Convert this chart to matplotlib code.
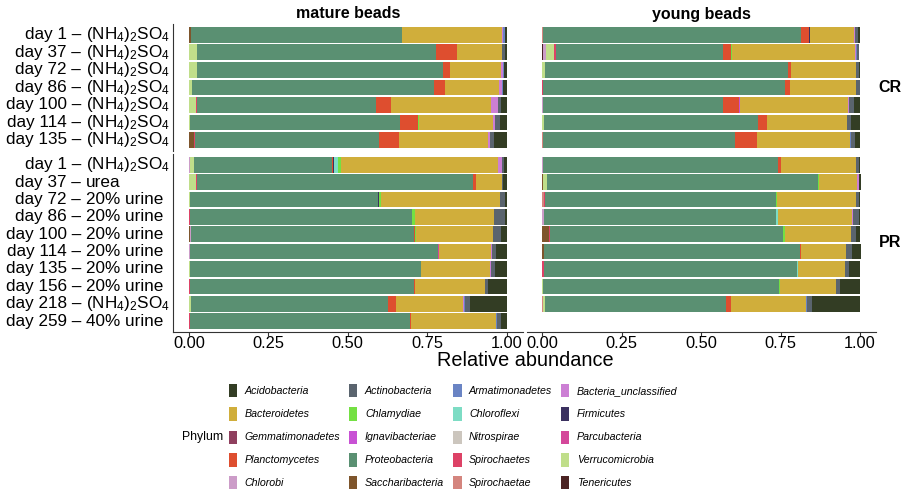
import numpy as np
import matplotlib
matplotlib.use('Agg')
import matplotlib.pyplot as plt
from matplotlib.patches import Rectangle
from matplotlib.transforms import blended_transform_factory

plt.rcParams['font.family'] = ['Liberation Sans', 'DejaVu Sans']
plt.rcParams['mathtext.fontset'] = 'custom'
plt.rcParams['mathtext.rm'] = 'Liberation Sans'
plt.rcParams['mathtext.it'] = 'Liberation Sans:italic'
plt.rcParams['mathtext.default'] = 'regular'

# phyla in legend order (row by row); bars are stacked in reverse of this
phyla = ['Acidobacteria', 'Actinobacteria', 'Armatimonadetes', 'Bacteria_unclassified',
         'Bacteroidetes', 'Chlamydiae', 'Chloroflexi', 'Firmicutes',
         'Gemmatimonadetes', 'Ignavibacteriae', 'Nitrospirae', 'Parcubacteria',
         'Planctomycetes', 'Proteobacteria', 'Spirochaetes', 'Verrucomicrobia',
         'Chlorobi', 'Saccharibacteria', 'Spirochaetae', 'Tenericutes']
colors = ['#333d24', '#5a646e', '#6a84c4', '#cc7fd4',
          '#d0ae3b', '#74e043', '#7ddcc4', '#3b3160',
          '#8f3f5e', '#c851d4', '#ccc6be', '#d4479a',
          '#de4e2f', '#5a9072', '#dd4266', '#c0de8a',
          '#cc9cc8', '#7e552c', '#d4857e', '#4b2323']

# sample labels: sampling day and nitrogen source
amm = '(NH$_4$)$_2$SO$_4$'
cr_days = [1, 37, 72, 86, 100, 114, 135]
cr_feed = [amm] * 7
pr_days = [1, 37, 72, 86, 100, 114, 135, 156, 218, 259]
pr_feed = [amm, 'urea', '20% urine', '20% urine', '20% urine', '20% urine',
           '20% urine', '20% urine', amm, '40% urine']

mature_cr = {
    'Saccharibacteria':      [0.006, 0, 0, 0, 0, 0, 0.016],
    'Verrucomicrobia':       [0, 0.024, 0.024, 0.009, 0.021, 0.003, 0],
    'Spirochaetes':          [0, 0, 0, 0, 0.004, 0, 0.004],
    'Proteobacteria':        [0.664, 0.753, 0.776, 0.762, 0.563, 0.661, 0.579],
    'Planctomycetes':        [0, 0.066, 0.021, 0.035, 0.048, 0.056, 0.062],
    'Chlamydiae':            [0, 0.002, 0, 0, 0, 0.004, 0],
    'Bacteroidetes':         [0.314, 0.141, 0.161, 0.170, 0.315, 0.234, 0.280],
    'Bacteria_unclassified': [0.005, 0, 0.006, 0.009, 0.021, 0.006, 0.006],
    'Armatimonadetes':       [0.005, 0, 0.004, 0.004, 0, 0, 0],
    'Actinobacteria':        [0, 0.009, 0, 0, 0.009, 0.015, 0.013],
    'Acidobacteria':         [0.006, 0.006, 0.008, 0.011, 0.020, 0.022, 0.041],
}

young_cr = {
    'Tenericutes':           [0, 0.003, 0, 0, 0, 0, 0],
    'Spirochaetae':          [0.003, 0, 0, 0, 0, 0, 0.003],
    'Chlorobi':              [0, 0.007, 0, 0, 0.003, 0, 0],
    'Verrucomicrobia':       [0, 0.028, 0.007, 0, 0, 0.004, 0],
    'Spirochaetes':          [0, 0.006, 0, 0.003, 0, 0, 0],
    'Proteobacteria':        [0.811, 0.526, 0.765, 0.760, 0.566, 0.674, 0.603],
    'Planctomycetes':        [0.025, 0.024, 0.011, 0.015, 0.050, 0.028, 0.069],
    'Ignavibacteriae':       [0, 0, 0, 0, 0.002, 0, 0],
    'Firmicutes':            [0.003, 0, 0, 0, 0, 0, 0],
    'Chlamydiae':            [0, 0.004, 0, 0, 0, 0, 0],
    'Bacteroidetes':         [0.139, 0.386, 0.205, 0.209, 0.340, 0.252, 0.293],
    'Bacteria_unclassified': [0.003, 0.003, 0, 0, 0.003, 0, 0],
    'Armatimonadetes':       [0, 0.004, 0, 0, 0, 0, 0.003],
    'Actinobacteria':        [0.010, 0.004, 0.009, 0.013, 0.016, 0.013, 0.013],
    'Acidobacteria':         [0.006, 0.003, 0.003, 0, 0.019, 0.028, 0.016],
}

mature_pr = {
    'Saccharibacteria':      [0, 0, 0, 0, 0.003, 0, 0, 0, 0, 0],
    'Chlorobi':              [0.003, 0, 0, 0, 0.003, 0.003, 0, 0, 0, 0],
    'Verrucomicrobia':       [0.013, 0.021, 0.003, 0, 0, 0, 0.003, 0, 0.006, 0],
    'Spirochaetes':          [0, 0.004, 0, 0.003, 0, 0, 0, 0.003, 0, 0.003],
    'Proteobacteria':        [0.435, 0.870, 0.592, 0.699, 0.703, 0.782, 0.726, 0.704, 0.620, 0.693],
    'Planctomycetes':        [0.003, 0.008, 0, 0, 0.003, 0, 0, 0.004, 0.025, 0.003],
    'Parcubacteria':         [0, 0, 0, 0, 0, 0.003, 0, 0, 0, 0],
    'Firmicutes':            [0.002, 0, 0.004, 0, 0, 0, 0, 0, 0, 0],
    'Chloroflexi':           [0.013, 0, 0, 0, 0, 0, 0, 0, 0, 0],
    'Chlamydiae':            [0.010, 0, 0.006, 0.010, 0.004, 0, 0.003, 0, 0, 0],
    'Bacteroidetes':         [0.493, 0.084, 0.374, 0.248, 0.240, 0.164, 0.215, 0.220, 0.212, 0.268],
    'Bacteria_unclassified': [0.015, 0, 0, 0, 0, 0.002, 0.003, 0, 0.003, 0],
    'Armatimonadetes':       [0, 0, 0, 0, 0.002, 0, 0, 0, 0.002, 0.003],
    'Actinobacteria':        [0.004, 0.003, 0.016, 0.035, 0.023, 0.013, 0.013, 0.009, 0.018, 0.013],
    'Acidobacteria':         [0.009, 0.010, 0.006, 0.005, 0.019, 0.035, 0.038, 0.060, 0.114, 0.019],
}

# no young-bead sample on day 259
young_pr = {
    'Spirochaetae':          [0, 0, 0.004, 0, 0, 0, 0, 0, 0.003, 0],
    'Saccharibacteria':      [0, 0.003, 0, 0, 0.020, 0.004, 0, 0, 0, 0],
    'Chlorobi':              [0.003, 0, 0, 0.004, 0, 0, 0, 0, 0, 0],
    'Verrucomicrobia':       [0, 0.013, 0, 0, 0, 0, 0, 0.003, 0.006, 0],
    'Spirochaetes':          [0, 0, 0.004, 0, 0.003, 0, 0.004, 0, 0, 0],
    'Proteobacteria':        [0.740, 0.853, 0.727, 0.732, 0.734, 0.806, 0.798, 0.741, 0.568, 0],
    'Planctomycetes':        [0.009, 0, 0, 0, 0, 0.005, 0, 0, 0.018, 0],
    'Chloroflexi':           [0, 0, 0, 0.004, 0, 0, 0.003, 0, 0, 0],
    'Chlamydiae':            [0, 0.003, 0.003, 0, 0.006, 0, 0, 0.004, 0, 0],
    'Bacteroidetes':         [0.236, 0.117, 0.250, 0.235, 0.208, 0.140, 0.148, 0.175, 0.236, 0],
    'Bacteria_unclassified': [0, 0.006, 0, 0.003, 0, 0, 0, 0, 0, 0],
    'Armatimonadetes':       [0, 0, 0, 0, 0, 0, 0, 0, 0.003, 0],
    'Actinobacteria':        [0.009, 0, 0.009, 0.019, 0.016, 0.019, 0.013, 0.013, 0.013, 0],
    'Acidobacteria':         [0.004, 0.007, 0.003, 0.003, 0.013, 0.028, 0.035, 0.065, 0.153, 0],
}

color_of = dict(zip(phyla, colors))
stack_order = phyla[::-1]

W, H = 906, 495
fig = plt.figure(figsize=(W / 100, H / 100), dpi=100)


def px_axes(x0, y0, x1, y1):
    return fig.add_axes([x0 / W, 1 - y1 / H, (x1 - x0) / W, (y1 - y0) / H])


def draw_panel(ax, data, days, feeds, show_y, show_x):
    n = len(days)
    y = np.arange(n)
    left = np.zeros(n)
    for ph in stack_order:
        if ph not in data:
            continue
        vals = np.array(data[ph], dtype=float)
        ax.barh(y, vals, left=left, height=0.9, color=color_of[ph], linewidth=0)
        left += vals
    ax.set_xlim(-0.05, 1.05)
    ax.set_ylim(n - 1 + 0.6, -0.6)
    for s in ['top', 'right']:
        ax.spines[s].set_visible(False)
    ax.spines['left'].set_visible(show_y)
    ax.spines['bottom'].set_visible(show_x)
    for s in ['left', 'bottom']:
        ax.spines[s].set_color('#333333')
        ax.spines[s].set_linewidth(0.8)
    ax.set_yticks(y)
    ax.set_yticklabels([])
    ax.tick_params(axis='y', length=0)
    if show_y:
        # "day N –" right-aligned, feed name left-aligned after it
        tr = blended_transform_factory(fig.transFigure, ax.transData)
        for yi, d, f in zip(y, days, feeds):
            ax.text(81 / W, yi, f'day {d} –', transform=tr, ha='right', va='center',
                    fontsize=12.3, color='black')
            ax.text(86 / W, yi, f, transform=tr, ha='left', va='center',
                    fontsize=12.3, color='black')
    ax.set_xticks([0, 0.25, 0.5, 0.75, 1.0])
    if show_x:
        ax.set_xticklabels(['0.00', '0.25', '0.50', '0.75', '1.00'], fontsize=11.8, color='black')
        ax.tick_params(axis='x', length=3, width=0.8, color='#333333', pad=0.5)
    else:
        ax.set_xticklabels([])
        ax.tick_params(axis='x', length=0)


xl = (173, 522.5)
xr = (526.5, 876)
ycr = (24.3, 150.5)
ypr = (154.3, 331.5)

draw_panel(px_axes(xl[0], ycr[0], xl[1], ycr[1]), mature_cr, cr_days, cr_feed, True, False)
draw_panel(px_axes(xr[0], ycr[0], xr[1], ycr[1]), young_cr, cr_days, cr_feed, False, False)
draw_panel(px_axes(xl[0], ypr[0], xl[1], ypr[1]), mature_pr, pr_days, pr_feed, True, True)
draw_panel(px_axes(xr[0], ypr[0], xr[1], ypr[1]), young_pr, pr_days, pr_feed, False, True)

# facet strips
fig.text(348 / W, 1 - 14 / H, 'mature beads', ha='center', va='center', fontsize=11.5, fontweight='bold')
fig.text(701 / W, 1 - 14 / H, 'young beads', ha='center', va='center', fontsize=11.5, fontweight='bold')
fig.text(890 / W, 1 - 87 / H, 'CR', ha='center', va='center', fontsize=11.5, fontweight='bold')
fig.text(890 / W, 1 - 242 / H, 'PR', ha='center', va='center', fontsize=11.5, fontweight='bold')
fig.text(525 / W, 1 - 360 / H, 'Relative abundance', ha='center', va='center', fontsize=14.3)

# legend, laid out in 4 columns x 5 rows
key_x = [229, 349, 453.3, 561]
text_x = [244.3, 365, 469, 576.7]
row_y = [390.7, 414, 437.3, 460, 482.7]
fig.text(182 / W, 1 - 437.3 / H, 'Phylum', ha='left', va='center', fontsize=8.8)
for i, ph in enumerate(phyla):
    r, c = divmod(i, 4)
    fig.add_artist(Rectangle((key_x[c] / W, 1 - (row_y[r] + 6.6) / H), 8.3 / W, 13.3 / H,
                             transform=fig.transFigure, facecolor=color_of[ph], linewidth=0))
    fig.text(text_x[c] / W, 1 - row_y[r] / H, ph, ha='left', va='center', fontsize=7.7,
             style='italic')

fig.savefig('out.png', dpi=100)
